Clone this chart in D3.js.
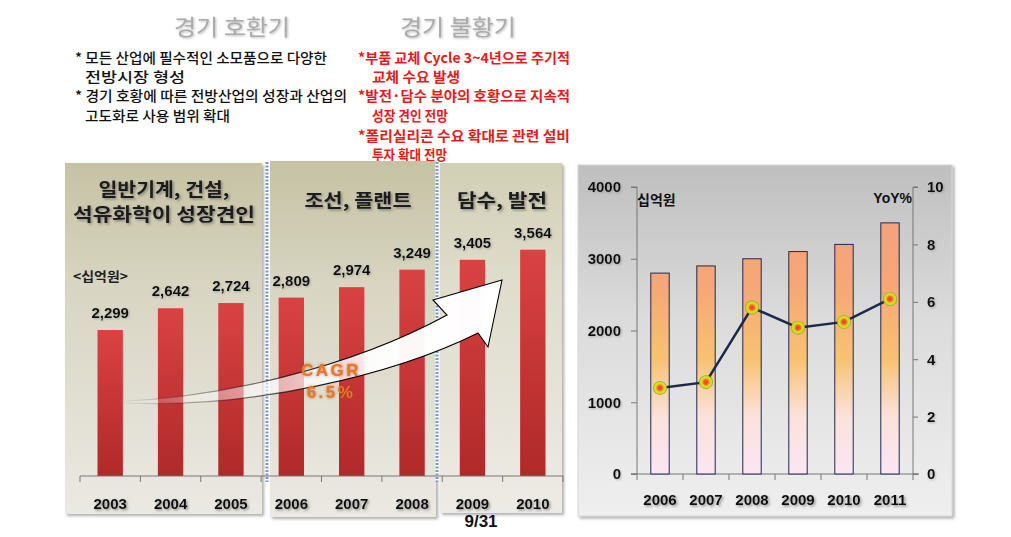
<!DOCTYPE html>
<html><head><meta charset="utf-8">
<script src="https://cdn.jsdelivr.net/npm/d3@7"></script>
<style>
html,body{margin:0;padding:0;background:#fff;}
svg{display:block;}
</style></head>
<body>
<script>
// ---------- DATA ----------
const leftYears = ['2003','2004','2005','2006','2007','2008','2009','2010'];
const leftValues = [2299,2642,2724,2809,2974,3249,3405,3564];
const leftLabels = ['2,299','2,642','2,724','2,809','2,974','3,249','3,405','3,564'];
const rightYears = ['2006','2007','2008','2009','2010','2011'];
const rightValues = [2800,2900,3000,3100,3200,3500];
const yoyValues = [3.0,3.2,5.8,5.1,5.3,6.1];
const leftTicks = [0,1000,2000,3000,4000];
const rightTicks = [0,2,4,6,8,10];
const phaseTitles = ['경기 호환기','경기 불황기'];
const blackNotes = ['* 모든 산업에 필수적인 소모품으로 다양한','전방시장 형성','* 경기 호황에 따른 전방산업의 성장과 산업의','고도화로 사용 범위 확대'];
const redNotes = ['*부품 교체 Cycle 3~4년으로 주기적','교체 수요 발생','*발전·담수 분야의 호황으로 지속적','성장 견인 전망','*폴리실리콘 수요 확대로 관련 설비','투자 확대 전망'];
const panelTitles = [['일반기계, 건설,','석유화학이 성장견인'],['조선, 플랜트'],['담수, 발전']];

const KR = "'Noto Sans CJK KR','Noto Sans',sans-serif";
const NUM = "'Liberation Sans',Arial,sans-serif";

const svg = d3.select('body').append('svg').attr('width',1011).attr('height',537);
const defs = svg.append('defs');

function lin(id, stops, attrs){
  const g = defs.append('linearGradient').attr('id',id);
  Object.entries(attrs||{x1:0,y1:0,x2:0,y2:1}).forEach(([k,v])=>g.attr(k,v));
  stops.forEach(s=>g.append('stop').attr('offset',s[0]).attr('stop-color',s[1]).attr('stop-opacity',s[2]===undefined?1:s[2]));
  return g;
}
lin('panelG',[[0,'#c6c2a3'],[0.35,'#d8d5c2'],[1,'#ebe9e3']]);
lin('panelG3',[[0,'#d2cfb6'],[0.35,'#dfddcc'],[1,'#edebe5']]);
lin('redBar',[[0,'#da4242'],[1,'#b02929']]);
lin('rightPanel',[[0,'#bfbfbf'],[0.45,'#dcdcdc'],[1,'#efefef']]);
lin('orangeBar',[[0,'#f4a07e'],[0.35,'#f6a776'],[0.6,'#f8c272'],[0.8,'#fbe2dc'],[1,'#fbe6f2']],
    {gradientUnits:'userSpaceOnUse',x1:0,y1:187,x2:0,y2:474});
lin('arrowFill',[[0,'#ffffff',0],[0.3,'#ffffff',0.45],[0.7,'#ffffff',0.95],[1,'#ffffff',1]],
    {gradientUnits:'userSpaceOnUse',x1:110,y1:0,x2:500,y2:0});
lin('arrowStroke',[[0,'#000',0],[0.35,'#000',0.5],[0.6,'#000',1],[1,'#000',1]],
    {gradientUnits:'userSpaceOnUse',x1:110,y1:0,x2:500,y2:0});
const rg = defs.append('radialGradient').attr('id','marker');
[[0,'#e83a2a'],[0.35,'#f06a2c'],[0.6,'#f2d21e'],[0.82,'#c8dc2c'],[1,'#6fae2c']]
  .forEach(s=>rg.append('stop').attr('offset',s[0]).attr('stop-color',s[1]));

const sh = defs.append('filter').attr('id','tshadow').attr('x','-20%').attr('y','-30%').attr('width','140%').attr('height','170%');
sh.append('feDropShadow').attr('dx',1.5).attr('dy',1.5).attr('stdDeviation',1.2).attr('flood-color','#555').attr('flood-opacity',0.6);
const sh2 = defs.append('filter').attr('id','pshadow').attr('x','-5%').attr('y','-5%').attr('width','115%').attr('height','115%');
sh2.append('feDropShadow').attr('dx',2).attr('dy',2).attr('stdDeviation',1.5).attr('flood-color','#777').attr('flood-opacity',0.6);
const glow = defs.append('filter').attr('id','glow').attr('x','-30%').attr('y','-50%').attr('width','160%').attr('height','200%');
glow.append('feGaussianBlur').attr('in','SourceAlpha').attr('stdDeviation',1.6).attr('result','b');
glow.append('feFlood').attr('flood-color','#8a4a20').attr('flood-opacity',0.7);
glow.append('feComposite').attr('in2','b').attr('operator','in').attr('result','s');
const gm = glow.append('feMerge'); gm.append('feMergeNode').attr('in','s'); gm.append('feMergeNode').attr('in','SourceGraphic');
const lblur = defs.append('filter').attr('id','light');
lblur.append('feDropShadow').attr('dx',1).attr('dy',1).attr('stdDeviation',0.8).attr('flood-color','#777').attr('flood-opacity',0.5);

// ---------- TOP TEXT ----------
svg.selectAll('text.phase').data(phaseTitles).join('text')
  .attr('x',(d,i)=>[232,458][i]).attr('y',35).attr('text-anchor','middle')
  .attr('font-family',KR).attr('font-size',22).attr('fill','#ababab').attr('filter','url(#light)')
  .attr('textLength',116).attr('lengthAdjust','spacingAndGlyphs')
  .text(d=>d);

const blackX = [75,85,75,85], noteY=[63,82,101,121,141,160];
const blackW = [252,100,272,145];
svg.selectAll('text.bn').data(blackNotes).join('text')
  .attr('x',(d,i)=>blackX[i]).attr('y',(d,i)=>noteY[i])
  .attr('font-family',KR).attr('font-size',14).attr('font-weight',500).attr('fill','#111')
  .attr('textLength',(d,i)=>blackW[i]).attr('lengthAdjust','spacingAndGlyphs')
  .text(d=>d);
const redX=[358,372,358,372,358,372], redW=[212,88,212,76,212,75];
svg.selectAll('text.rn').data(redNotes).join('text')
  .attr('x',(d,i)=>redX[i]).attr('y',(d,i)=>noteY[i])
  .attr('font-family',KR).attr('font-size',14).attr('font-weight',700).attr('fill','#e21c1c')
  .attr('textLength',(d,i)=>redW[i]).attr('lengthAdjust','spacingAndGlyphs')
  .text(d=>d);

// ---------- LEFT CHART ----------
const xL = d3.scaleBand().domain(leftYears).range([80,563]).paddingInner(0.58).paddingOuter(0.29);
const yL = d3.scaleLinear().domain([0,4000]).range([476,222]);

const panels = [{x0:65,x1:262,y0:163,y1:514,f:'panelG'},{x0:270,x1:436,y0:161,y1:517,f:'panelG'},{x0:440,x1:562,y0:163,y1:513,f:'panelG3'}];
svg.selectAll('rect.panel').data(panels).join('rect')
  .attr('x',d=>d.x0).attr('y',d=>d.y0).attr('width',d=>d.x1-d.x0).attr('height',d=>d.y1-d.y0)
  .attr('fill',d=>`url(#${d.f})`).attr('filter','url(#pshadow)');

// panel titles
const titleX=[164,358,502];
const titleW=[[131,182],[107],[90]];
panelTitles.forEach((lines,i)=>{
  lines.forEach((t,j)=>{
    svg.append('text').attr('x',titleX[i]).attr('y',lines.length===2?[196,221][j]:207)
      .attr('text-anchor','middle').attr('font-family',KR).attr('font-size',18).attr('font-weight',700)
      .attr('textLength',titleW[i][j]).attr('lengthAdjust','spacingAndGlyphs')
      .attr('fill','#1a1a1a').attr('filter','url(#tshadow)').text(t);
  });
});
svg.append('text').attr('x',73).attr('y',281).attr('font-family',KR).attr('font-size',13).attr('font-weight',700)
  .attr('fill','#222').attr('textLength',55).attr('lengthAdjust','spacingAndGlyphs').text('<십억원>');

// dotted separators
[267,437].forEach(x=>{
  svg.append('line').attr('x1',x).attr('x2',x).attr('y1',162).attr('y2',482)
    .attr('stroke','#fff').attr('stroke-width',3.5);
  svg.append('line').attr('x1',x).attr('x2',x).attr('y1',162).attr('y2',482)
    .attr('stroke','#7f97c4').attr('stroke-width',3).attr('stroke-dasharray','2,1.5');
});

// bars
svg.selectAll('rect.lbar').data(leftValues).join('rect')
  .attr('x',(d,i)=>xL(leftYears[i])).attr('y',d=>yL(d))
  .attr('width',xL.bandwidth()).attr('height',d=>yL(0)-yL(d)).attr('fill','url(#redBar)');

// value labels
svg.selectAll('text.lval').data(leftValues).join('text')
  .attr('x',(d,i)=>xL(leftYears[i])+xL.bandwidth()/2).attr('y',d=>yL(d)-12)
  .attr('text-anchor','middle').attr('font-family',NUM).attr('font-size',15).attr('font-weight',700)
  .attr('fill','#111').attr('filter','url(#light)').text((d,i)=>leftLabels[i]);

// axis
const axL = svg.append('g').attr('transform',`translate(0,${yL(0)})`)
  .call(d3.axisBottom(xL).tickSize(0).tickFormat(''));
axL.select('.domain').attr('stroke','#777').attr('d','M80,0H563');
const bnds = leftYears.map(y=>xL(y)-xL.step()*xL.paddingInner()/2).concat([563]);
svg.selectAll('line.lt').data(bnds).join('line')
  .attr('x1',d=>d).attr('x2',d=>d).attr('y1',yL(0)).attr('y2',yL(0)+6).attr('stroke','#777');
svg.selectAll('text.lyr').data(leftYears).join('text')
  .attr('x',d=>xL(d)+xL.bandwidth()/2).attr('y',509).attr('text-anchor','middle')
  .attr('font-family',NUM).attr('font-size',15).attr('font-weight',700).attr('fill','#111')
  .attr('filter','url(#tshadow)').text(d=>d);

// arrow
const ap = d3.path();
ap.moveTo(112,402);
ap.bezierCurveTo(220,398,350,368,447,315);
ap.lineTo(433,300);
ap.lineTo(502,280);
ap.lineTo(488,347);
ap.lineTo(478,333);
ap.bezierCurveTo(400,372,250,412,112,402);
ap.closePath();
svg.append('path').attr('d',ap.toString()).attr('fill','url(#arrowFill)')
  .attr('stroke','url(#arrowStroke)').attr('stroke-width',1.1).attr('stroke-linejoin','miter');

svg.selectAll('text.cagr').data(['CAGR','6.5%']).join('text')
  .attr('x',331).attr('y',(d,i)=>[376,398][i]).attr('text-anchor','middle')
  .attr('font-family',NUM).attr('font-size',17).attr('font-weight',700).attr('letter-spacing',2.5)
  .attr('fill','#ec7524').attr('filter','url(#glow)').text(d=>d);

svg.append('text').attr('x',481).attr('y',527).attr('text-anchor','middle')
  .attr('font-family',NUM).attr('font-size',17).attr('font-weight',700).attr('fill','#111').text('9/31');

// ---------- RIGHT CHART ----------
svg.append('rect').attr('x',578).attr('y',165).attr('width',374).attr('height',351)
  .attr('fill','url(#rightPanel)').attr('stroke','#d8d8d8').attr('filter','url(#pshadow)');

const xR = d3.scaleBand().domain(rightYears).range([637,913]).paddingInner(0.6).paddingOuter(0.3);
const yR = d3.scaleLinear().domain([0,4000]).range([474,187]);
const yR2 = d3.scaleLinear().domain([0,10]).range([474,187]);

const axLeft = svg.append('g').attr('transform','translate(637,0)')
  .call(d3.axisLeft(yR).tickValues(leftTicks).tickSize(6).tickPadding(10).tickFormat(d3.format('d')));
const axRight = svg.append('g').attr('transform','translate(913,0)')
  .call(d3.axisRight(yR2).tickValues(rightTicks).tickSize(5).tickPadding(9));
[axLeft,axRight].forEach(a=>{
  a.select('.domain').attr('stroke','#777');
  a.selectAll('.tick line').attr('stroke','#777');
  a.selectAll('.tick text').attr('font-family',NUM).attr('font-size',15).attr('font-weight',700).attr('fill','#111')
    .attr('filter','url(#light)');
});
axLeft.select('.domain').attr('d','M-6,187H0V474H-6');
axRight.select('.domain').attr('d','M5,187H0V474H5');

svg.append('line').attr('x1',631).attr('x2',919).attr('y1',474).attr('y2',474).attr('stroke','#777');
const bndR = rightYears.map(y=>xR(y)-xR.step()*xR.paddingInner()/2).concat([913]);
svg.selectAll('line.rt').data(bndR).join('line')
  .attr('x1',d=>d).attr('x2',d=>d).attr('y1',474).attr('y2',480).attr('stroke','#777');

svg.selectAll('rect.rbar').data(rightValues).join('rect')
  .attr('x',(d,i)=>xR(rightYears[i])).attr('y',d=>yR(d))
  .attr('width',xR.bandwidth()).attr('height',d=>yR(0)-yR(d))
  .attr('fill','url(#orangeBar)').attr('stroke','#1e2a52').attr('stroke-width',1);

svg.selectAll('text.ryr').data(rightYears).join('text')
  .attr('x',d=>xR(d)+xR.bandwidth()/2).attr('y',505).attr('text-anchor','middle')
  .attr('font-family',NUM).attr('font-size',15).attr('font-weight',700).attr('fill','#111')
  .attr('filter','url(#tshadow)').text(d=>d);

const line = d3.line().x((d,i)=>xR(rightYears[i])+xR.bandwidth()/2).y(d=>yR2(d));
svg.append('path').attr('d',line(yoyValues)).attr('fill','none').attr('stroke','#1b2a4a').attr('stroke-width',2.5);
svg.selectAll('circle.m').data(yoyValues).join('circle')
  .attr('cx',(d,i)=>xR(rightYears[i])+xR.bandwidth()/2).attr('cy',d=>yR2(d)).attr('r',7)
  .attr('fill','url(#marker)');

svg.append('text').attr('x',637).attr('y',205).attr('font-family',KR).attr('font-size',14).attr('font-weight',700)
  .attr('fill','#111').text('십억원');
svg.append('text').attr('x',912).attr('y',203).attr('text-anchor','end').attr('font-family',NUM).attr('font-size',14).attr('font-weight',700)
  .attr('fill','#111').text('YoY%');
</script>
</body></html>
